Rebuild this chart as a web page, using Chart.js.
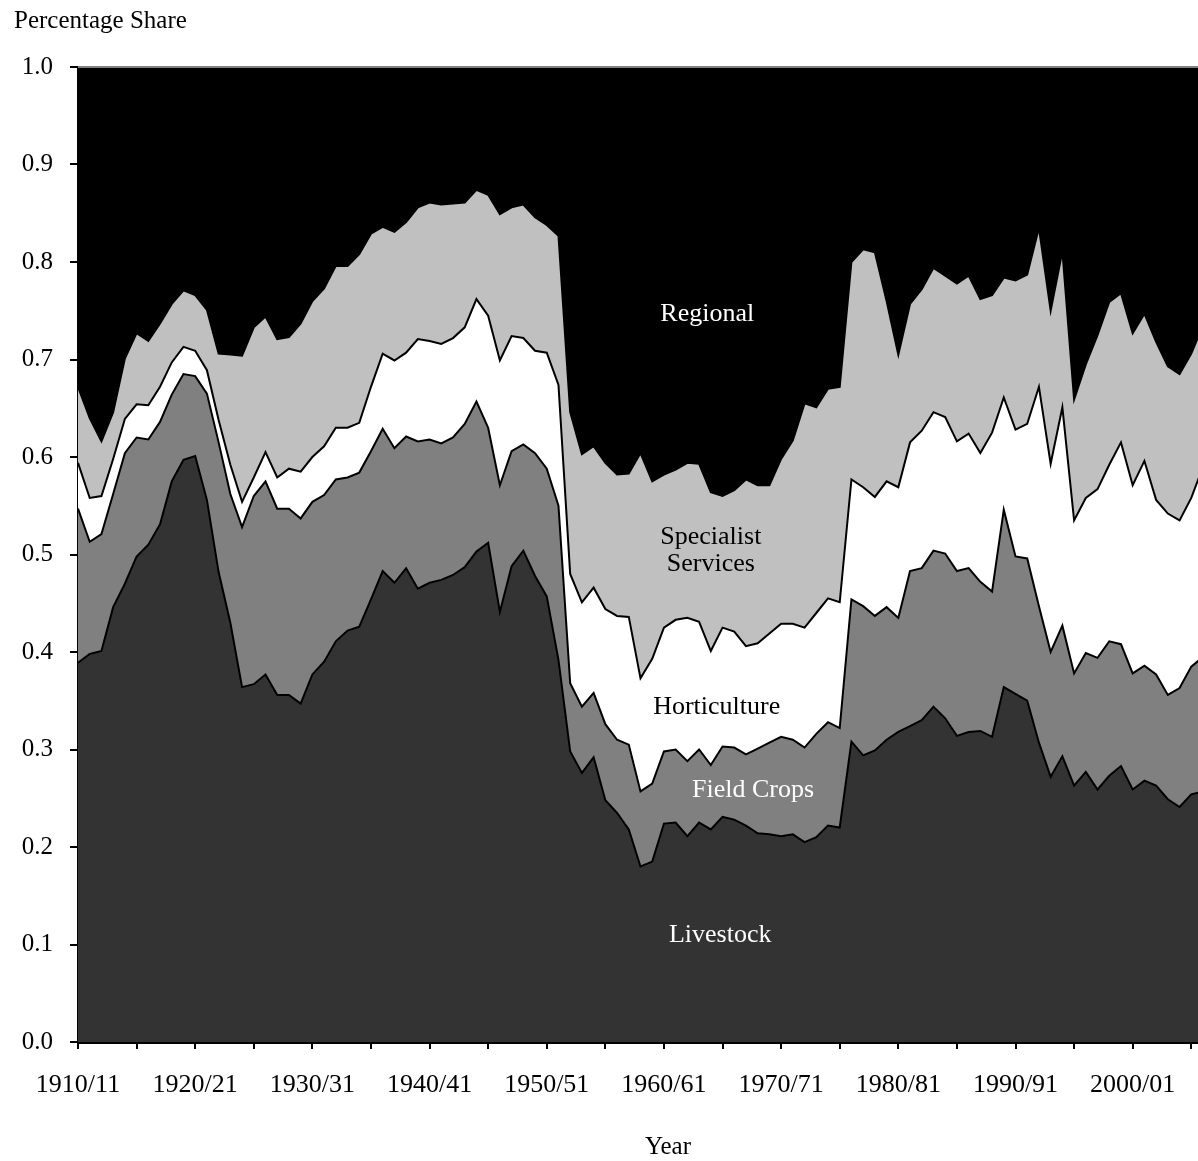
<!DOCTYPE html>
<html>
<head>
<meta charset="utf-8">
<title>Percentage Share</title>
<script src="https://cdn.jsdelivr.net/npm/chart.js@4.4.1/dist/chart.umd.min.js"></script>
<style>
  html, body { margin: 0; padding: 0; background: #ffffff; overflow: hidden; }
  #wrap { width: 1198px; height: 1161px; overflow: hidden; position: relative; }
  canvas { display: block; }
</style>
</head>
<body>
<div id="wrap">
  <canvas id="shareChart" width="1224" height="1161"></canvas>
</div>
<script>
// ==================== DATA ====================

// Financial years 1910/11 .. 2006/07 (last one falls just past the crop)
const yearLabels = [];
for (let y = 1910; y <= 2006; y++) {
  yearLabels.push(y + "/" + String(y + 1).slice(2));
}

const yTicks = [0, 0.1, 0.2, 0.3, 0.4, 0.5, 0.6, 0.7, 0.8, 0.9, 1.0];

const livestock = [
  0.389, 0.398, 0.401, 0.446, 0.470, 0.498, 0.510, 0.531, 0.575, 0.597,
  0.601, 0.556, 0.482, 0.430, 0.364, 0.367, 0.377, 0.356, 0.356, 0.347,
  0.377, 0.390, 0.411, 0.422, 0.426, 0.454, 0.483, 0.471, 0.486, 0.465,
  0.471, 0.474, 0.479, 0.487, 0.503, 0.512, 0.441, 0.488, 0.504, 0.478,
  0.457, 0.392, 0.298, 0.276, 0.292, 0.248, 0.235, 0.218, 0.180, 0.185,
  0.224, 0.225, 0.211, 0.225, 0.218, 0.231, 0.228, 0.222, 0.214, 0.213,
  0.211, 0.213, 0.205, 0.210, 0.222, 0.220, 0.308, 0.294, 0.299, 0.310,
  0.318, 0.324, 0.330, 0.344, 0.332, 0.314, 0.318, 0.319, 0.313, 0.364,
  0.357, 0.350, 0.307, 0.272, 0.293, 0.263, 0.277, 0.259, 0.273, 0.283,
  0.259, 0.268, 0.263, 0.249, 0.241, 0.254, 0.257,
];

const fieldCrops = [
  0.158, 0.115, 0.120, 0.116, 0.134, 0.122, 0.108, 0.105, 0.089, 0.088,
  0.082, 0.109, 0.133, 0.132, 0.164, 0.193, 0.198, 0.191, 0.191, 0.190,
  0.177, 0.171, 0.166, 0.157, 0.158, 0.152, 0.146, 0.138, 0.135, 0.151,
  0.147, 0.140, 0.141, 0.147, 0.154, 0.118, 0.130, 0.118, 0.109, 0.126,
  0.131, 0.158, 0.070, 0.068, 0.066, 0.078, 0.075, 0.087, 0.077, 0.080,
  0.074, 0.075, 0.077, 0.075, 0.066, 0.072, 0.074, 0.073, 0.087, 0.094,
  0.102, 0.097, 0.097, 0.106, 0.106, 0.102, 0.146, 0.153, 0.138, 0.136,
  0.117, 0.159, 0.156, 0.160, 0.169, 0.169, 0.168, 0.153, 0.149, 0.182,
  0.141, 0.146, 0.140, 0.128, 0.134, 0.115, 0.122, 0.135, 0.138, 0.125,
  0.119, 0.118, 0.114, 0.107, 0.122, 0.131, 0.138,
];

const horticulture = [
  0.047, 0.045, 0.039, 0.036, 0.035, 0.034, 0.035, 0.036, 0.033, 0.028,
  0.026, 0.024, 0.023, 0.030, 0.026, 0.019, 0.030, 0.032, 0.041, 0.048,
  0.046, 0.050, 0.053, 0.051, 0.051, 0.066, 0.077, 0.090, 0.086, 0.105,
  0.101, 0.102, 0.102, 0.099, 0.105, 0.115, 0.128, 0.118, 0.109, 0.105,
  0.119, 0.124, 0.112, 0.107, 0.108, 0.118, 0.127, 0.131, 0.116, 0.128,
  0.127, 0.133, 0.147, 0.131, 0.117, 0.122, 0.119, 0.111, 0.108, 0.112,
  0.116, 0.119, 0.123, 0.124, 0.127, 0.129, 0.123, 0.122, 0.122, 0.129,
  0.134, 0.132, 0.141, 0.142, 0.140, 0.133, 0.138, 0.132, 0.163, 0.115,
  0.130, 0.138, 0.225, 0.193, 0.224, 0.157, 0.159, 0.173, 0.181, 0.207,
  0.193, 0.210, 0.179, 0.186, 0.172, 0.173, 0.195,
];

const specialist = [
  0.078, 0.082, 0.056, 0.048, 0.062, 0.073, 0.066, 0.065, 0.060, 0.058,
  0.057, 0.062, 0.068, 0.113, 0.150, 0.154, 0.139, 0.142, 0.135, 0.152,
  0.160, 0.162, 0.166, 0.166, 0.173, 0.157, 0.130, 0.132, 0.134, 0.135,
  0.142, 0.143, 0.138, 0.128, 0.112, 0.124, 0.150, 0.132, 0.137, 0.137,
  0.131, 0.153, 0.166, 0.152, 0.145, 0.150, 0.145, 0.147, 0.231, 0.182,
  0.157, 0.154, 0.159, 0.162, 0.163, 0.135, 0.145, 0.171, 0.162, 0.152,
  0.169, 0.188, 0.230, 0.211, 0.215, 0.221, 0.223, 0.244, 0.251, 0.185,
  0.136, 0.142, 0.145, 0.148, 0.145, 0.162, 0.162, 0.158, 0.141, 0.123,
  0.153, 0.153, 0.163, 0.157, 0.160, 0.124, 0.137, 0.158, 0.167, 0.153,
  0.156, 0.151, 0.162, 0.151, 0.150, 0.148, 0.145,
];

const regional = [
  0.328, 0.360, 0.384, 0.354, 0.299, 0.273, 0.281, 0.263, 0.243, 0.229,
  0.234, 0.249, 0.294, 0.295, 0.296, 0.267, 0.256, 0.279, 0.277, 0.263,
  0.240, 0.227, 0.204, 0.204, 0.192, 0.171, 0.164, 0.169, 0.159, 0.144,
  0.139, 0.141, 0.140, 0.139, 0.126, 0.131, 0.151, 0.144, 0.141, 0.154,
  0.162, 0.173, 0.354, 0.397, 0.389, 0.406, 0.418, 0.417, 0.396, 0.425,
  0.418, 0.413, 0.406, 0.407, 0.436, 0.440, 0.434, 0.423, 0.429, 0.429,
  0.402, 0.383, 0.345, 0.349, 0.330, 0.328, 0.200, 0.187, 0.190, 0.240,
  0.295, 0.243, 0.228, 0.206, 0.214, 0.222, 0.214, 0.238, 0.234, 0.216,
  0.219, 0.213, 0.165, 0.250, 0.189, 0.341, 0.305, 0.275, 0.241, 0.232,
  0.273, 0.253, 0.282, 0.307, 0.315, 0.294, 0.265,
];

// In-chart labels: [text, category index, value, colour]
const areaLabels = [
  ["Regional", 53.7, 0.747, "#ffffff"],
  ["Specialist", 54.0, 0.518, "#000000"],
  ["Services", 54.0, 0.490, "#000000"],
  ["Horticulture", 54.5, 0.343, "#000000"],
  ["Field Crops", 57.6, 0.258, "#ffffff"],
  ["Livestock", 54.8, 0.110, "#ffffff"],
];

const FONT = "'Liberation Serif', 'Times New Roman', serif";

// ==================== PLUGINS ====================

const textPlugin = {
  id: "textPlugin",
  afterDraw(chart) {
    const ctx = chart.ctx;
    const area = chart.chartArea;
    const xs = chart.scales.x;
    const ys = chart.scales.y;

    ctx.save();
    // top border of the plot area
    ctx.strokeStyle = "#808080";
    ctx.lineWidth = 2;
    ctx.beginPath();
    ctx.moveTo(area.left, area.top);
    ctx.lineTo(chart.width, area.top);
    ctx.stroke();

    ctx.fillStyle = "#000000";
    ctx.font = "25px " + FONT;
    ctx.textBaseline = "middle";
    ctx.textAlign = "left";
    ctx.fillText("Percentage Share", 14, 21);

    ctx.textAlign = "center";
    ctx.fillText("Year", 668, 1147);

    ctx.font = "26px " + FONT;
    areaLabels.forEach(([text, idx, val, color]) => {
      const px = xs.getPixelForValue(idx);
      const py = ys.getPixelForValue(val);
      ctx.fillStyle = color;
      ctx.fillText(text, px, py);
    });
    ctx.restore();
  },
};

// ==================== RENDER CHART ====================

function makeSeries(label, data, color, fill) {
  return {
    label: label,
    data: data,
    backgroundColor: color,
    borderColor: "#000000",
    borderWidth: 2,
    fill: fill,
    tension: 0,
    pointRadius: 0,
  };
}

new Chart(document.getElementById("shareChart"), {
  type: "line",
  data: {
    labels: yearLabels,
    datasets: [
      makeSeries("Livestock", livestock, "#333333", "origin"),
      makeSeries("Field Crops", fieldCrops, "#808080", "-1"),
      makeSeries("Horticulture", horticulture, "#ffffff", "-1"),
      makeSeries("Specialist Services", specialist, "#c0c0c0", "-1"),
      {
        label: "Regional",
        data: regional,
        backgroundColor: "#000000",
        borderWidth: 0,
        fill: "-1",
        tension: 0,
        pointRadius: 0,
      },
    ],
  },
  options: {
    responsive: false,
    animation: false,
    layout: {
      padding: { top: 67, right: 0, left: 0, bottom: 0 },
    },
    plugins: {
      legend: { display: false },
      tooltip: { enabled: false },
    },
    scales: {
      x: {
        offset: false,
        afterFit: (scale) => {
          scale.height = 119;
        },
        border: { display: true, color: "#000000", width: 3 },
        grid: {
          drawOnChartArea: false,
          drawTicks: true,
          tickLength: 7,
          lineWidth: 2,
          tickColor: (ctx) =>
            ctx.index % 5 === 0 ? "#000000" : "rgba(0,0,0,0)",
        },
        ticks: {
          autoSkip: false,
          maxRotation: 0,
          minRotation: 0,
          padding: 21,
          color: "#000000",
          font: { family: FONT, size: 26 },
          callback: function (value, index) {
            return index % 10 === 0 ? yearLabels[index] : "";
          },
        },
      },
      y: {
        stacked: true,
        min: 0,
        max: 1,
        afterFit: (scale) => {
          scale.width = 78;
        },
        afterBuildTicks: (scale) => {
          scale.ticks = yTicks.map((v) => ({ value: v }));
        },
        border: { display: true, color: "#000000", width: 2 },
        grid: {
          drawOnChartArea: false,
          drawTicks: true,
          tickLength: 8,
          lineWidth: 2,
          tickColor: "#000000",
        },
        ticks: {
          padding: 17,
          color: "#000000",
          font: { family: FONT, size: 25 },
          callback: (value) => Number(value).toFixed(1),
        },
      },
    },
  },
  plugins: [textPlugin],
});
</script>
</body>
</html>
